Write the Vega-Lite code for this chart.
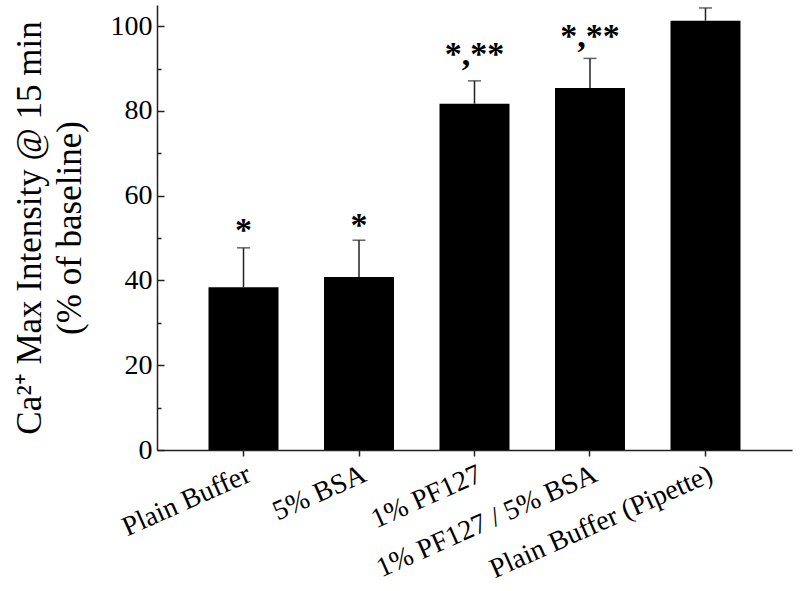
{
  "$schema": "https://vega.github.io/schema/vega-lite/v6.json",
  "autosize": "none",
  "padding": {"left": 157, "top": 5, "right": 8, "bottom": 141},
  "width": 635,
  "height": 445,
  "background": "white",
  "config": {
    "view": {"stroke": null},
    "font": "Liberation Serif",
    "axis": {"grid": false, "domainColor": "#222", "domainWidth": 1.5, "tickColor": "#222", "tickWidth": 1.5, "labelColor": "black", "titleColor": "black", "labelFont": "Liberation Serif", "titleFont": "Liberation Serif"}
  },
  "data": {
    "values": [
      {"group": "Plain Buffer", "mean": 38.4, "upper": 47.7, "star": "*", "starY": 49.2},
      {"group": "5% BSA", "mean": 40.8, "upper": 49.5, "star": "*", "starY": 50.4},
      {"group": "1% PF127", "mean": 81.7, "upper": 87.1, "star": "*,**", "starY": 90.9},
      {"group": "1% PF127 / 5% BSA", "mean": 85.4, "upper": 92.4, "star": "*,**", "starY": 95.2},
      {"group": "Plain Buffer (Pipette)", "mean": 101.3, "upper": 104.3, "star": "", "starY": 107}
    ]
  },
  "encoding": {
    "x": {
      "field": "group", "type": "nominal", "sort": null,
      "scale": {"paddingInner": 0.394, "paddingOuter": 0.446},
      "axis": {"title": null, "labelAngle": -24, "labelAlign": "right", "labelBaseline": "top", "labelFontSize": 28, "labelLimit": 600, "tickSize": 6, "labelPadding": 4}
    }
  },
  "layer": [
    {
      "mark": {"type": "bar", "color": "black"},
      "encoding": {
        "y": {
          "field": "mean", "type": "quantitative",
          "scale": {"domain": [0, 105], "nice": false},
          "axis": {
            "title": ["Ca²⁺ Max Intensity @ 15 min", "(% of baseline)"],
            "titleFontSize": 35, "titleFontWeight": "normal", "titleLineHeight": 40, "titlePadding": 23,
            "values": [0, 10, 20, 30, 40, 50, 60, 70, 80, 90, 100],
            "labelExpr": "datum.value % 20 === 0 ? datum.label : ''",
            "tickSize": {"condition": {"test": "datum.value % 20 === 0", "value": -7}, "value": -4},
            "labelFontSize": 28, "labelPadding": 12
          }
        }
      }
    },
    {
      "mark": {"type": "rule", "color": "#222", "strokeWidth": 1.5},
      "encoding": {"y": {"field": "mean", "type": "quantitative"}, "y2": {"field": "upper"}}
    },
    {
      "mark": {"type": "tick", "orient": "horizontal", "color": "#222", "size": 13, "thickness": 1.5},
      "encoding": {"y": {"field": "upper", "type": "quantitative"}}
    },
    {
      "transform": [{"filter": "datum.star != ''"}],
      "mark": {"type": "text", "fontSize": 34, "fontWeight": "bold", "baseline": "alphabetic", "align": "center", "color": "black", "font": "Liberation Serif"},
      "encoding": {"y": {"field": "starY", "type": "quantitative"}, "text": {"field": "star"}}
    }
  ]
}
